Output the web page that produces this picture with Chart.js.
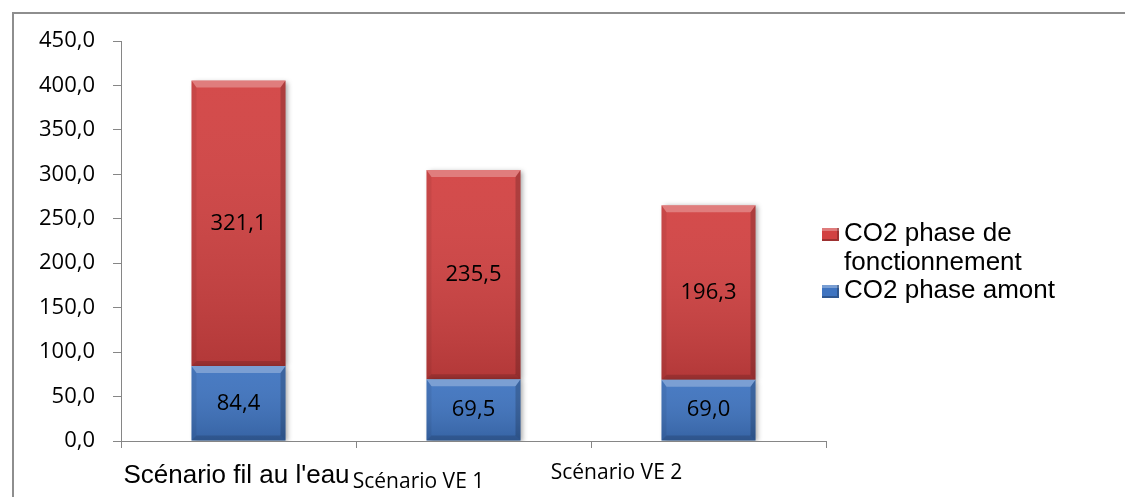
<!DOCTYPE html>
<html>
<head>
<meta charset="utf-8">
<script src="https://cdn.jsdelivr.net/npm/chart.js@4.4.1/dist/chart.umd.min.js"></script>
<style>
  html, body { margin: 0; padding: 0; background: #fff; overflow: hidden; }
  #wrap { position: relative; width: 1125px; height: 497px; }
  #frame { position: absolute; left: 12px; top: 12px; width: 1300px; height: 700px; border: 2px solid #8e8e8e; box-sizing: border-box; }
  #chart { position: absolute; left: 0; top: 0; }
  #legend { position: absolute; left: 844px; top: 218px; font: 26px "Liberation Sans", Arial, sans-serif; line-height: 28.5px; color: #000; }
  .item { position: relative; white-space: pre-line; }
  .key { position: absolute; left: -22px; top: 10px; width: 17px; height: 13px; box-shadow: inset -2px -2px 0 rgba(0,0,0,0.25), inset 0 3px 0 rgba(255,255,255,0.3); }
</style>
</head>
<body>
<div id="wrap">
  <div id="frame"></div>
  <canvas id="chart" width="1125" height="497"></canvas>
  <div id="legend"></div>
</div>
<script>
const categories = ["Scénario fil au l'eau", 'Scénario VE 1', 'Scénario VE 2'];
const amont = [84.4, 69.5, 69.0];
const fonctionnement = [321.1, 235.5, 196.3];
const yMin = 0;
const yMax = 450;
const yStep = 50;

// the category labels are not all placed or sized the same in the original
const labelStyle = [
  { dx: -2, dy: 42, font: '26px "Liberation Sans", Arial, sans-serif' },
  { dx: -55, dy: 47, font: '21px "Open Sans", sans-serif' },
  { dx: -92, dy: 38, font: '21px "Open Sans", sans-serif' }
];

const fmt = v => v.toFixed(1).replace('.', ',');

function poly(c, pts, color) {
  c.beginPath();
  c.moveTo(pts[0][0], pts[0][1]);
  for (let i = 1; i < pts.length; i++) c.lineTo(pts[i][0], pts[i][1]);
  c.closePath();
  c.fillStyle = color;
  c.fill();
}

const bevel = {
  id: 'bevel',
  beforeDatasetsDraw(chart) {
    const c = chart.ctx;
    c.save();
    c.shadowColor = 'rgba(0,0,0,0.35)';
    c.shadowBlur = 5;
    c.shadowOffsetX = 2;
    c.shadowOffsetY = 1;
  },
  afterDatasetsDraw(chart) {
    const c = chart.ctx;
    c.restore();
    chart.data.datasets.forEach((ds, di) => {
      chart.getDatasetMeta(di).data.forEach(bar => {
        const p = bar.getProps(['x', 'y', 'base', 'width'], true);
        const l = p.x - p.width / 2, r = p.x + p.width / 2;
        const t = Math.min(p.y, p.base), b = Math.max(p.y, p.base);
        const e = 7, s = 5;
        const g = c.createLinearGradient(0, t, 0, b);
        g.addColorStop(0, 'rgba(255,255,255,0.05)');
        g.addColorStop(1, 'rgba(0,0,0,0.15)');
        c.fillStyle = g;
        c.fillRect(l, t, r - l, b - t);
        poly(c, [[l, t], [r, t], [r - s, t + e], [l + s, t + e]], 'rgba(255,255,255,0.28)');
        poly(c, [[r, t], [r, b], [r - s, b - s], [r - s, t + e]], 'rgba(0,0,0,0.18)');
        poly(c, [[l, b], [r, b], [r - s, b - s], [l + s, b - s]], 'rgba(0,0,0,0.14)');
        poly(c, [[l, t], [l + s, t + e], [l + s, b - s], [l, b]], 'rgba(0,0,0,0.06)');
      });
    });
    // values inside the segments
    c.save();
    c.font = '22px "Open Sans", sans-serif';
    c.fillStyle = '#000';
    c.textAlign = 'center';
    c.textBaseline = 'middle';
    chart.data.datasets.forEach((ds, di) => {
      chart.getDatasetMeta(di).data.forEach((bar, i) => {
        const p = bar.getProps(['x', 'y', 'base'], true);
        c.fillText(fmt(ds.data[i]), p.x, (p.y + p.base) / 2);
      });
    });
    c.restore();
  }
};

const xLabels = {
  id: 'xLabels',
  afterDraw(chart) {
    const c = chart.ctx;
    const x = chart.scales.x;
    c.save();
    c.fillStyle = '#000';
    c.textAlign = 'center';
    c.textBaseline = 'alphabetic';
    categories.forEach((name, i) => {
      const st = labelStyle[i];
      c.font = st.font;
      c.fillText(name, x.getPixelForValue(i) + st.dx, chart.chartArea.bottom + st.dy);
    });
    c.restore();
  }
};

const ctx = document.getElementById('chart').getContext('2d');
const chart = new Chart(ctx, {
  type: 'bar',
  data: {
    labels: categories,
    datasets: [
      {
        label: 'CO2 phase amont',
        data: amont,
        backgroundColor: '#3f74c0'
      },
      {
        label: 'CO2 phase de\nfonctionnement',
        data: fonctionnement,
        backgroundColor: '#d24242'
      }
    ]
  },
  options: {
    responsive: false,
    animation: false,
    layout: { padding: { left: 0, top: 41, right: 299, bottom: 0 } },
    datasets: { bar: { categoryPercentage: 1, barPercentage: 0.4 } },
    plugins: {
      legend: { display: false },
      tooltip: { enabled: false }
    },
    scales: {
      x: {
        stacked: true,
        afterFit(scale) { scale.height = 56; },
        border: { color: '#868686', width: 1 },
        grid: { offset: true, drawOnChartArea: false, drawTicks: true, tickLength: 7, color: '#868686' },
        ticks: { display: false }
      },
      y: {
        stacked: true,
        min: yMin,
        max: yMax,
        afterFit(scale) { scale.width = 121; },
        border: { color: '#868686', width: 1 },
        grid: { drawOnChartArea: false, drawTicks: true, tickLength: 8, color: '#868686' },
        ticks: {
          stepSize: yStep,
          padding: 18,
          color: '#000',
          font: { family: 'Open Sans', size: 22 },
          callback: v => fmt(v)
        }
      }
    }
  },
  plugins: [bevel, xLabels]
});

// legend as html, red first like in the original
const legend = document.getElementById('legend');
chart.data.datasets.slice().reverse().forEach(ds => {
  const item = document.createElement('div');
  item.className = 'item';
  const key = document.createElement('span');
  key.className = 'key';
  key.style.background = ds.backgroundColor;
  item.appendChild(key);
  item.appendChild(document.createTextNode(ds.label));
  legend.appendChild(item);
});
</script>
</body>
</html>
